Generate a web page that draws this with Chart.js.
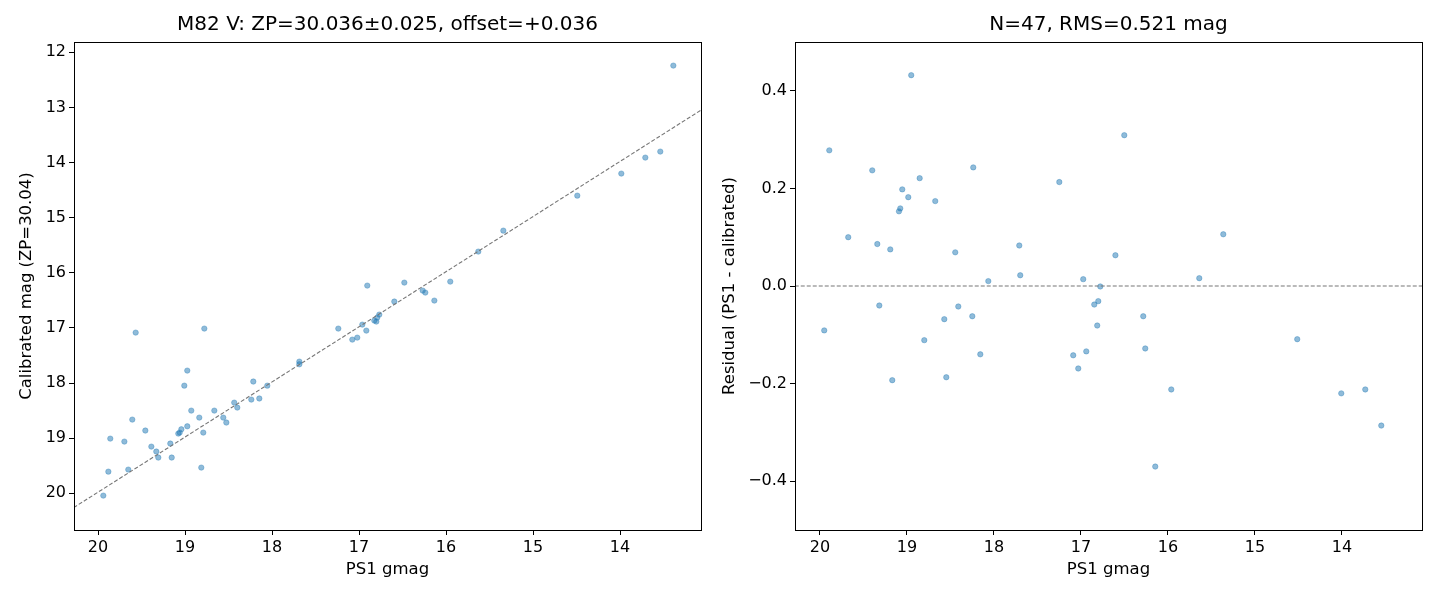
<!DOCTYPE html>
<html>
<head>
<meta charset="utf-8">
<script src="https://cdn.jsdelivr.net/npm/chart.js@4"></script>
<style>
  body { margin: 0; background: #fff; }
  .panel { position: absolute; top: 0; width: 720px; height: 600px; }
</style>
</head>
<body>
<div class="panel" style="left:0"><canvas id="calChart"></canvas></div>
<div class="panel" style="left:720px"><canvas id="resChart"></canvas></div>
<script>
// left panel: PS1 gmag vs calibrated mag
const calX = [19.939, 19.881, 19.652, 19.859, 19.697, 19.606, 19.567, 19.456, 19.387, 19.330,
              19.307, 19.169, 19.153, 19.077, 19.061, 19.042, 18.974, 19.008, 18.974, 18.928,
              18.836, 18.790, 18.813, 18.778, 18.663, 18.560, 18.525, 18.434, 18.399, 18.238,
              18.215, 18.146, 18.054, 17.686, 17.686, 17.238, 17.077, 17.020, 16.962, 16.916,
              16.824, 16.801, 16.790, 16.767, 16.905, 16.479, 16.594, 16.268, 16.238, 16.134,
              15.951, 15.629, 15.341, 14.491, 13.985, 13.709, 13.537, 13.387];
const calY = [20.042, 19.607, 19.570, 19.008, 19.062, 18.663, 17.085, 18.862, 19.153, 19.243,
              19.352, 19.098, 19.352, 18.917, 18.899, 18.839, 18.785, 18.047, 17.774, 18.500,
              18.627, 18.899, 19.534, 17.012, 18.500, 18.627, 18.717, 18.355, 18.445, 18.300,
              17.973, 18.280, 18.047, 17.611, 17.660, 17.012, 17.212, 17.176, 16.940, 17.049,
              16.867, 16.885, 16.813, 16.758, 16.232, 16.178, 16.522, 16.323, 16.359, 16.504,
              16.160, 15.615, 15.235, 14.600, 14.200, 13.910, 13.801, 12.241];
const fitX = [20.28, 13.07];
const fitY = [20.26, 13.05];

// right panel: residuals
const resX = [18.951, 19.893, 19.399, 18.854, 18.238, 17.249, 19.054, 18.985, 18.675, 19.077,
              19.092, 19.675, 19.341, 19.192, 18.445, 17.709, 18.065, 17.698, 16.974, 16.778,
              19.318, 19.951, 18.410, 18.571, 18.249, 18.801, 18.157, 19.169, 18.548, 16.847,
              16.801, 16.813, 17.089, 16.939, 17.031, 16.502, 16.604, 15.364, 15.640, 16.284,
              16.261, 14.514, 15.962, 14.008, 13.732, 13.548, 16.146];
const resY = [0.432, 0.278, 0.237, 0.221, 0.243, 0.213, 0.198, 0.182, 0.174, 0.159,
              0.153, 0.100, 0.086, 0.075, 0.069, 0.083, 0.010, 0.022, 0.014, -0.001,
              -0.040, -0.091, -0.042, -0.068, -0.062, -0.111, -0.140, -0.193, -0.187, -0.038,
              -0.031, -0.081, -0.142, -0.134, -0.169, 0.309, 0.063, 0.106, 0.016, -0.062,
              -0.128, -0.109, -0.212, -0.220, -0.212, -0.286, -0.370];
const zeroX = [20.29, 13.08];
const zeroY = [0, 0];

const xTicks = [20, 19, 18, 17, 16, 15, 14];
const calTicks = [12, 13, 14, 15, 16, 17, 18, 19, 20];
const resTicks = [-0.4, -0.2, 0.0, 0.2, 0.4];

Chart.defaults.font.family = 'DejaVu Sans';
Chart.defaults.color = '#000';

const toPts = (xs, ys) => xs.map((x, i) => ({ x: x, y: ys[i] }));

// matplotlib-like full box around the axes
const framePlugin = {
    id: 'frame',
    afterDraw(chart) {
        const a = chart.chartArea;
        const ctx = chart.ctx;
        ctx.save();
        ctx.strokeStyle = '#000';
        ctx.lineWidth = 1;
        ctx.strokeRect(Math.round(a.left) + 0.5, Math.round(a.top) + 0.5,
                       Math.round(a.right - a.left), Math.round(a.bottom - a.top));
        ctx.restore();
    }
};

function axisGrid() {
    return { display: true, drawOnChartArea: false, drawTicks: true, tickLength: 5, color: '#000' };
}

function makeChart(id, opts) {
    return new Chart(document.getElementById(id), {
        type: 'scatter',
        data: {
            datasets: [
                {
                    type: 'line',
                    data: opts.line,
                    borderColor: '#777',
                    borderWidth: 1.1,
                    borderDash: [4, 2],
                    pointRadius: 0,
                    fill: false
                },
                {
                    data: opts.points,
                    backgroundColor: 'rgba(31, 119, 180, 0.5)',
                    borderColor: 'rgba(31, 119, 180, 0.35)',
                    borderWidth: 1,
                    pointRadius: 2.7
                }
            ]
        },
        options: {
            responsive: true,
            maintainAspectRatio: false,
            animation: false,
            devicePixelRatio: 1,
            events: [],
            layout: { padding: { left: 0, right: opts.padRight, top: 0, bottom: 0 } },
            plugins: {
                legend: { display: false },
                tooltip: { enabled: false },
                title: {
                    display: true,
                    text: opts.title,
                    fullSize: false,
                    font: { size: 20, weight: 'normal' },
                    padding: { top: 13, bottom: 5 }
                }
            },
            scales: {
                x: {
                    type: 'linear',
                    reverse: true,
                    min: opts.xMin,
                    max: opts.xMax,
                    border: { display: false },
                    grid: axisGrid(),
                    afterBuildTicks: s => { s.ticks = xTicks.map(v => ({ value: v })); },
                    afterFit: s => { s.height = 70; },
                    ticks: { font: { size: 16 }, padding: 3, maxRotation: 0, callback: v => String(v) },
                    title: { display: true, text: 'PS1 gmag', font: { size: 16.5 }, padding: { top: 0, bottom: 20 } }
                },
                y: {
                    type: 'linear',
                    reverse: opts.yReverse,
                    min: opts.yMin,
                    max: opts.yMax,
                    border: { display: false },
                    grid: axisGrid(),
                    afterBuildTicks: s => { s.ticks = opts.yTicks.map(v => ({ value: v })); },
                    afterFit: s => { s.width = opts.yWidth; },
                    ticks: { font: { size: 16 }, padding: 3, callback: opts.yFmt },
                    title: { display: true, text: opts.yTitle, font: { size: 16.5 }, padding: { top: opts.yTitlePad, bottom: 0 } }
                }
            }
        },
        plugins: [framePlugin]
    });
}

makeChart('calChart', {
    title: 'M82 V: ZP=30.036±0.025, offset=+0.036',
    points: toPts(calX, calY),
    line: toPts(fitX, fitY),
    padRight: 19,
    xMin: 13.069, xMax: 20.276,
    yMin: 11.813, yMax: 20.666, yReverse: true,
    yTicks: calTicks,
    yFmt: v => String(v),
    yWidth: 74,
    yTitle: 'Calibrated mag (ZP=30.04)',
    yTitlePad: 17
});

makeChart('resChart', {
    title: 'N=47, RMS=0.521 mag',
    points: toPts(resX, resY),
    line: toPts(zeroX, zeroY),
    padRight: 18,
    xMin: 13.080, xMax: 20.287,
    yMin: -0.5, yMax: 0.5, yReverse: false,
    yTicks: resTicks,
    yFmt: v => v.toFixed(1).replace('-', '\u2212'),
    yWidth: 75,
    yTitle: 'Residual (PS1 - calibrated)',
    yTitlePad: 0
});
</script>
</body>
</html>
